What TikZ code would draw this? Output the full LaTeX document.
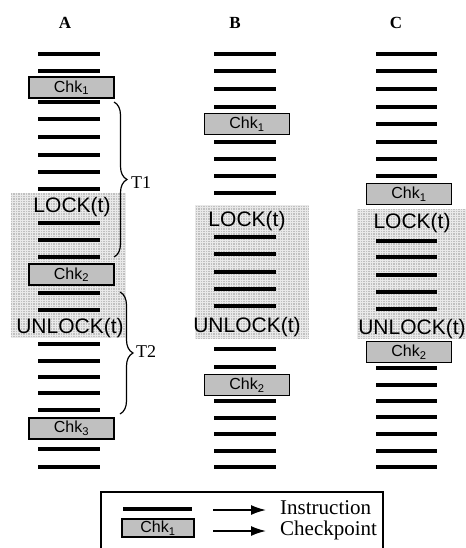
\documentclass[tikz,border=0pt]{standalone}
\usepackage{fontspec}
\setmainfont{Liberation Serif}
\newfontfamily\arialf{Liberation Sans}
\usetikzlibrary{arrows.meta,decorations.pathreplacing}
\definecolor{shadegray}{RGB}{192,192,192}
\definecolor{chkgray}{RGB}{192,192,192}
\tikzset{
  instr/.style={line width=3.4bp},
  chkbox/.style={draw=black, line width=1.2bp, fill=chkgray, minimum width=85bp, minimum height=21bp, inner sep=0pt, font=\arialf\fontsize{16bp}{16bp}\selectfont},
  locktext/.style={font=\arialf\fontsize{21bp}{21bp}\selectfont, inner sep=0pt},
  shadebox/.style={fill=shadegray},
  shadegrid/.style={draw=white, line width=0.9bp, opacity=0.65},
  coltitle/.style={font=\bfseries\fontsize{17bp}{17bp}\selectfont, inner sep=0pt},
  tlabel/.style={font=\fontsize{18bp}{18bp}\selectfont, anchor=west, inner sep=0pt},
  bracestyle/.style={decorate, decoration={brace, amplitude=13bp}, line width=1.2bp},
  legtext/.style={font=\fontsize{21bp}{21bp}\selectfont, anchor=west, inner sep=0pt},
  legarrow/.style={line width=1.6bp, -{Latex[length=15bp,width=10bp]}}
}
\newcommand\shadearea[4]{%
  \fill[shadebox] (#1,#2) rectangle (#3,#4);
  \begin{scope}
    \clip (#1,#2) rectangle (#3,#4);
    \draw[shadegrid] (#1,#2) grid[step=2.5bp] (#3,#4);
  \end{scope}}
\begin{document}
\begin{tikzpicture}[x=1bp,y=-1bp]
\useasboundingbox (0,0) rectangle (466,548);
% shaded critical regions
\shadearea{11}{193}{126}{338}
\shadearea{195}{205}{309}{339}
\shadearea{357}{209}{466}{339}
% titles
\node[coltitle] (titA) at (65,23) {A};
\node[coltitle] (titB) at (235,23) {B};
\node[coltitle] (titC) at (396,23) {C};
% instructions
\foreach \y in {54,71,102,119,137,155,172,189,223,240,257,293,310,344,361,377,393,410,449,467}
  \draw[instr] (38,\y) -- (100,\y);
\foreach \y in {54,71,89,107,142,159,176,193,237,254,272,289,306,349,367,401,418,434,451,467}
  \draw[instr] (214,\y) -- (276,\y);
\foreach \y in {54,71,89,107,124,142,159,176,241,257,275,292,309,368,385,401,417,434,451,467}
  \draw[instr] (376,\y) -- (437,\y);
% lock texts
\node[locktext] (lockA) at (72,207) {LOCK(t)};
\node[locktext] (unlockA) at (70,328) {UNLOCK(t)};
\node[locktext] (lockB) at (247,221) {LOCK(t)};
\node[locktext] (unlockB) at (247,327) {UNLOCK(t)};
\node[locktext] (lockC) at (412,223) {LOCK(t)};
\node[locktext] (unlockC) at (412,329) {UNLOCK(t)};
% checkpoints
\node[chkbox] (a1) at (71.5,87.5) {Chk\textsubscript{1}};
\node[chkbox] (a2) at (71.5,274.5) {Chk\textsubscript{2}};
\node[chkbox] (a3) at (71.5,428.5) {Chk\textsubscript{3}};
\node[chkbox] (b1) at (247,124) {Chk\textsubscript{1}};
\node[chkbox] (b2) at (247,385) {Chk\textsubscript{2}};
\node[chkbox] (c1) at (409,194) {Chk\textsubscript{1}};
\node[chkbox] (c2) at (409,352) {Chk\textsubscript{2}};
% braces
\coordinate (t1a) at (114,102);
\coordinate (t1b) at (114,257);
\draw[bracestyle] (t1a) -- (t1b);
\node[tlabel] (t1) at (131,183) {T1};
\coordinate (t2a) at (120,292);
\coordinate (t2b) at (120,414);
\draw[bracestyle] (t2a) -- (t2b);
\node[tlabel] (t2) at (136,352) {T2};
% legend
\coordinate (lbl) at (101,548);
\coordinate (ltl) at (101,492);
\coordinate (ltr) at (383,492);
\coordinate (lbr) at (383,548);
\draw[line width=1.3bp] (lbl) -- (ltl) -- (ltr) -- (lbr);
\coordinate (lis) at (123,509);
\coordinate (lie) at (192,509);
\draw[instr] (lis) -- (lie);
\node[chkbox, minimum width=72bp, minimum height=18bp] (lchk) at (158,528) {Chk\textsubscript{1}};
\node[legtext] (linstr) at (280,508) {Instruction};
\node[legtext] (lcheck) at (280,530) {Checkpoint};
\coordinate (la1) at (213,510);
\coordinate (la1e) at (266,510);
\coordinate (la2) at (213,531);
\coordinate (la2e) at (266,531);
\draw[legarrow] (la1) -- (la1e);
\draw[legarrow] (la2) -- (la2e);
\end{tikzpicture}
\end{document}
